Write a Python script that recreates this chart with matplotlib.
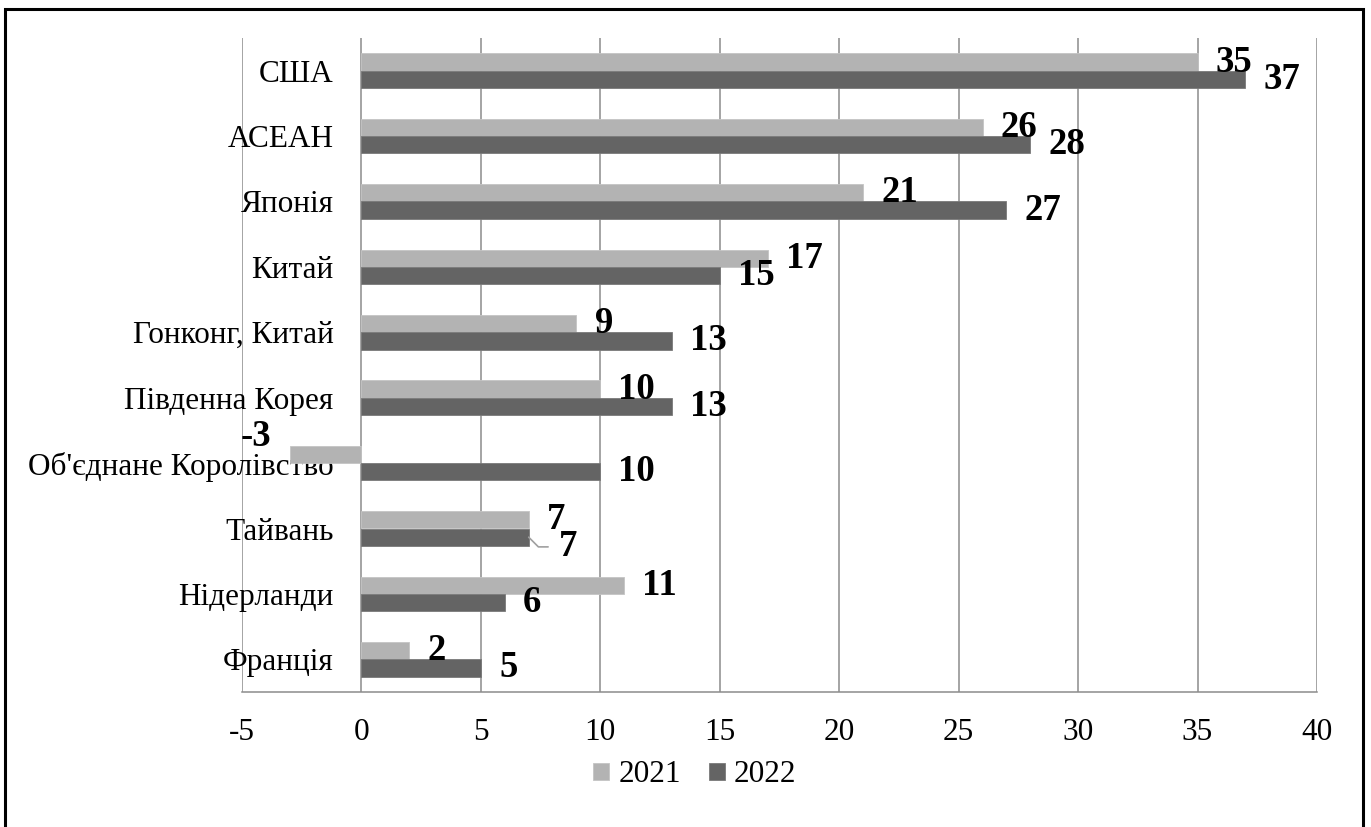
import matplotlib
matplotlib.use("Agg")
import matplotlib.pyplot as plt
import matplotlib.patches as mpatches
import numpy as np

categories = ["США", "АСЕАН", "Японія", "Китай", "Гонконг, Китай",
              "Південна Корея", "Об'єднане Королівство", "Тайвань",
              "Нідерланди", "Франція"]
values_2021 = [35, 26, 21, 17, 9, 10, -3, 7, 11, 2]
values_2022 = [37, 28, 27, 15, 13, 13, 10, 7, 6, 5]
series_names = ["2021", "2022"]
x_ticks = [-5, 0, 5, 10, 15, 20, 25, 30, 35, 40]

plt.rcParams['font.family'] = ['Liberation Serif', 'DejaVu Serif']

c_light = "#b3b3b3"
c_dark = "#646464"
grid_c = "#8c8c8c"

fig = plt.figure(figsize=(13.71, 8.27), dpi=100)
ax = fig.add_axes([242/1371, 1-692/827, (1317-242)/1371, (692-38)/827])

y = np.arange(len(categories))
h = 0.265
b1 = ax.barh(y - h/2, values_2021, height=h, color=c_light, edgecolor="#c4c4c4", linewidth=0.6, zorder=3, label=series_names[0])
b2 = ax.barh(y + h/2, values_2022, height=h, color=c_dark, edgecolor="#7a7a7a", linewidth=0.6, zorder=3, label=series_names[1])

ax.spines['left'].set_position(('data', 0))
ax.spines['left'].set_visible(False)
for s in ['top', 'right']:
    ax.spines[s].set_visible(False)
ax.spines['bottom'].set_color(grid_c)
ax.spines['bottom'].set_linewidth(1.1)

ax.set_xlim(-5, 40)
ax.set_ylim(len(categories) - 0.5, -0.5)
ax.set_xticks(x_ticks)
ax.set_xticklabels([str(t) for t in x_ticks])
ax.xaxis.grid(True, color=grid_c, linewidth=1.1, zorder=0)
ax.set_axisbelow(True)
ax.tick_params(axis='x', length=0, pad=19, labelsize=22.5)

ax.set_yticks(y)
ax.set_yticklabels(categories)
ax.tick_params(axis='y', length=0, pad=20, labelsize=22.5)

lab_fs = 26.5
off = 13  # points
for i, v in enumerate(values_2021):
    yy = y[i] - h/2
    if v < 0:
        ax.annotate(str(v), xy=(v, yy), xytext=(-off, 13), textcoords='offset points',
                    ha='right', va='center', fontsize=lab_fs, fontweight='bold', zorder=5)
    else:
        ax.annotate(str(v), xy=(v, yy), xytext=(off, 0), textcoords='offset points',
                    ha='left', va='center', fontsize=lab_fs, fontweight='bold', zorder=5)
for i, v in enumerate(values_2022):
    yy = y[i] + h/2
    if categories[i] == "Тайвань":
        ax.annotate(str(v), xy=(v, yy), xytext=(22, -7), textcoords='offset points',
                    ha='left', va='center', fontsize=lab_fs, fontweight='bold', zorder=5,
                    arrowprops=dict(arrowstyle='-', color="#a0a0a0", lw=1.2,
                                    connectionstyle="angle,angleA=0,angleB=-45,rad=0",
                                    shrinkA=6, shrinkB=0))
    else:
        ax.annotate(str(v), xy=(v, yy), xytext=(off, 0), textcoords='offset points',
                    ha='left', va='center', fontsize=lab_fs, fontweight='bold', zorder=5)

leg = fig.legend(handles=[b1, b2], labels=series_names, loc='center',
                 bbox_to_anchor=(695/1371, 1-775/827), ncol=2, frameon=False,
                 fontsize=22.5, handlelength=0.5, handleheight=0.5,
                 handletextpad=0.3, columnspacing=0.9)

# outer frame (bottom edge continues below the image)
frame = mpatches.Rectangle((5/1371, -0.05), (1363-5)/1371, 1.05 - 9/827,
                           transform=fig.transFigure, fill=False,
                           edgecolor='black', linewidth=2.2, zorder=10)
fig.patches.append(frame)

fig.savefig("out.png", dpi=100)
